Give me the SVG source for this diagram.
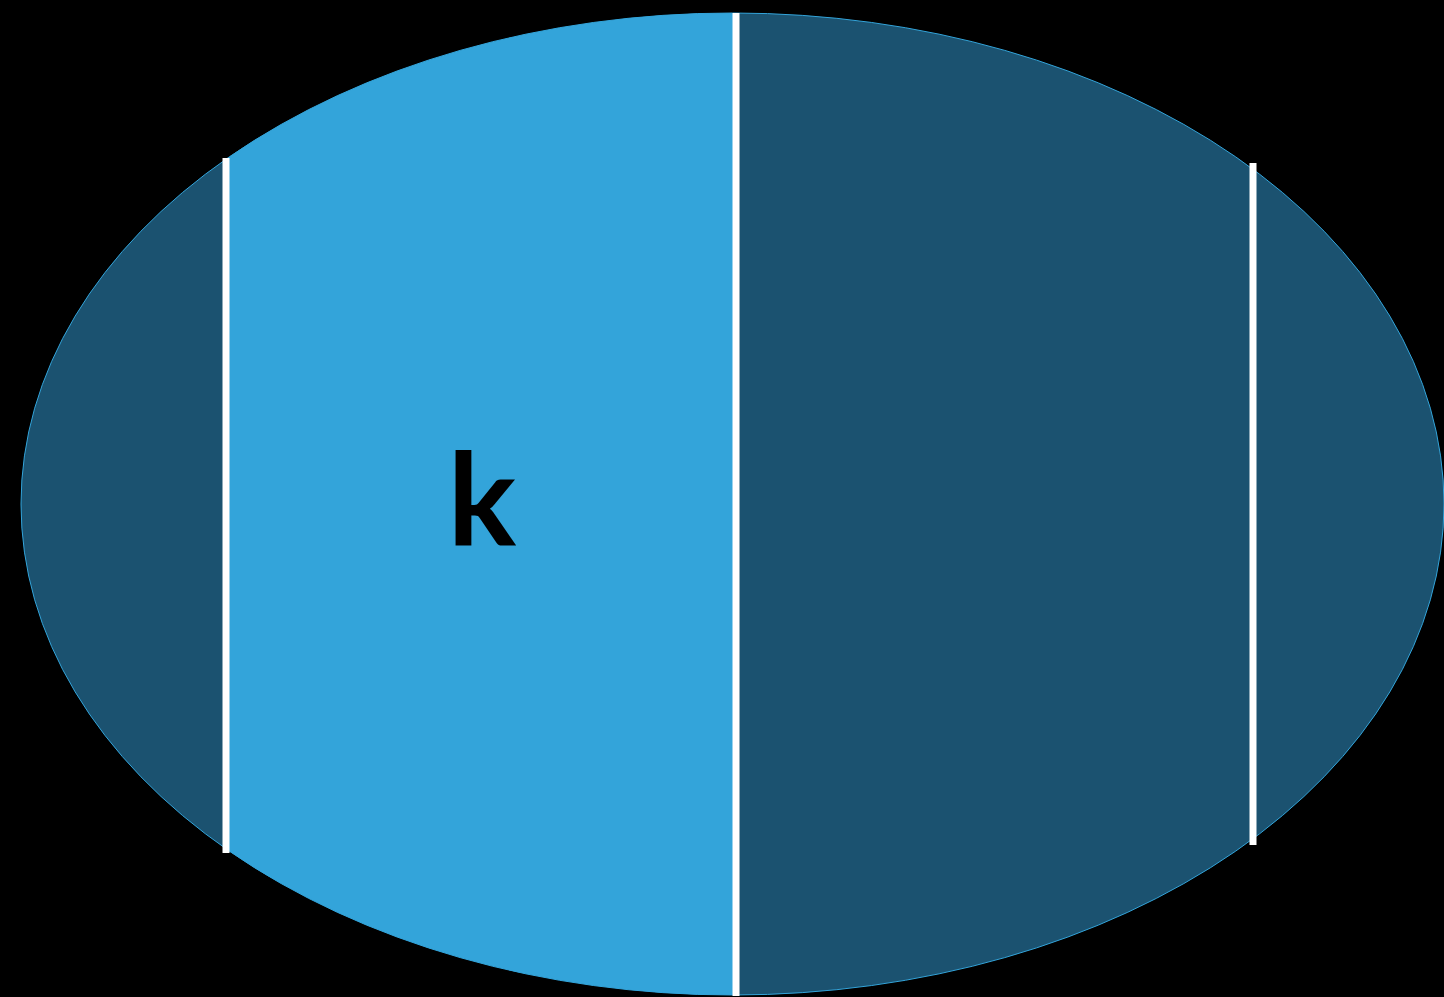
<svg xmlns="http://www.w3.org/2000/svg" width="1444" height="997" viewBox="0 0 1444 997">
<style>
.div{stroke:#FFFFFF;stroke-width:7;}
.lbl{font-family:Lato,"Noto Sans",sans-serif;font-weight:bold;font-size:128px;fill:#000000;}
</style>
<defs>
<clipPath id="ec"><ellipse cx="732.5" cy="504" rx="711.5" ry="491"/></clipPath>
</defs>
<rect x="0" y="0" width="1444" height="997" fill="#000000"/>
<g id="ellipse">
<ellipse cx="732.5" cy="504" rx="711.5" ry="491" fill="#1B5270" stroke="#33A4DA" stroke-width="1"/>
<rect x="226" y="0" width="510" height="997" fill="#33A4DA" clip-path="url(#ec)"/>
</g>
<g id="dividers">
<line class="div" x1="226" y1="158" x2="226" y2="853"/>
<line class="div" x1="736" y1="13" x2="736" y2="996"/>
<line class="div" x1="1253" y1="163" x2="1253" y2="845"/>
</g>
<g id="label">
<text class="lbl" x="482" y="545" text-anchor="middle">k</text>
</g>
</svg>
